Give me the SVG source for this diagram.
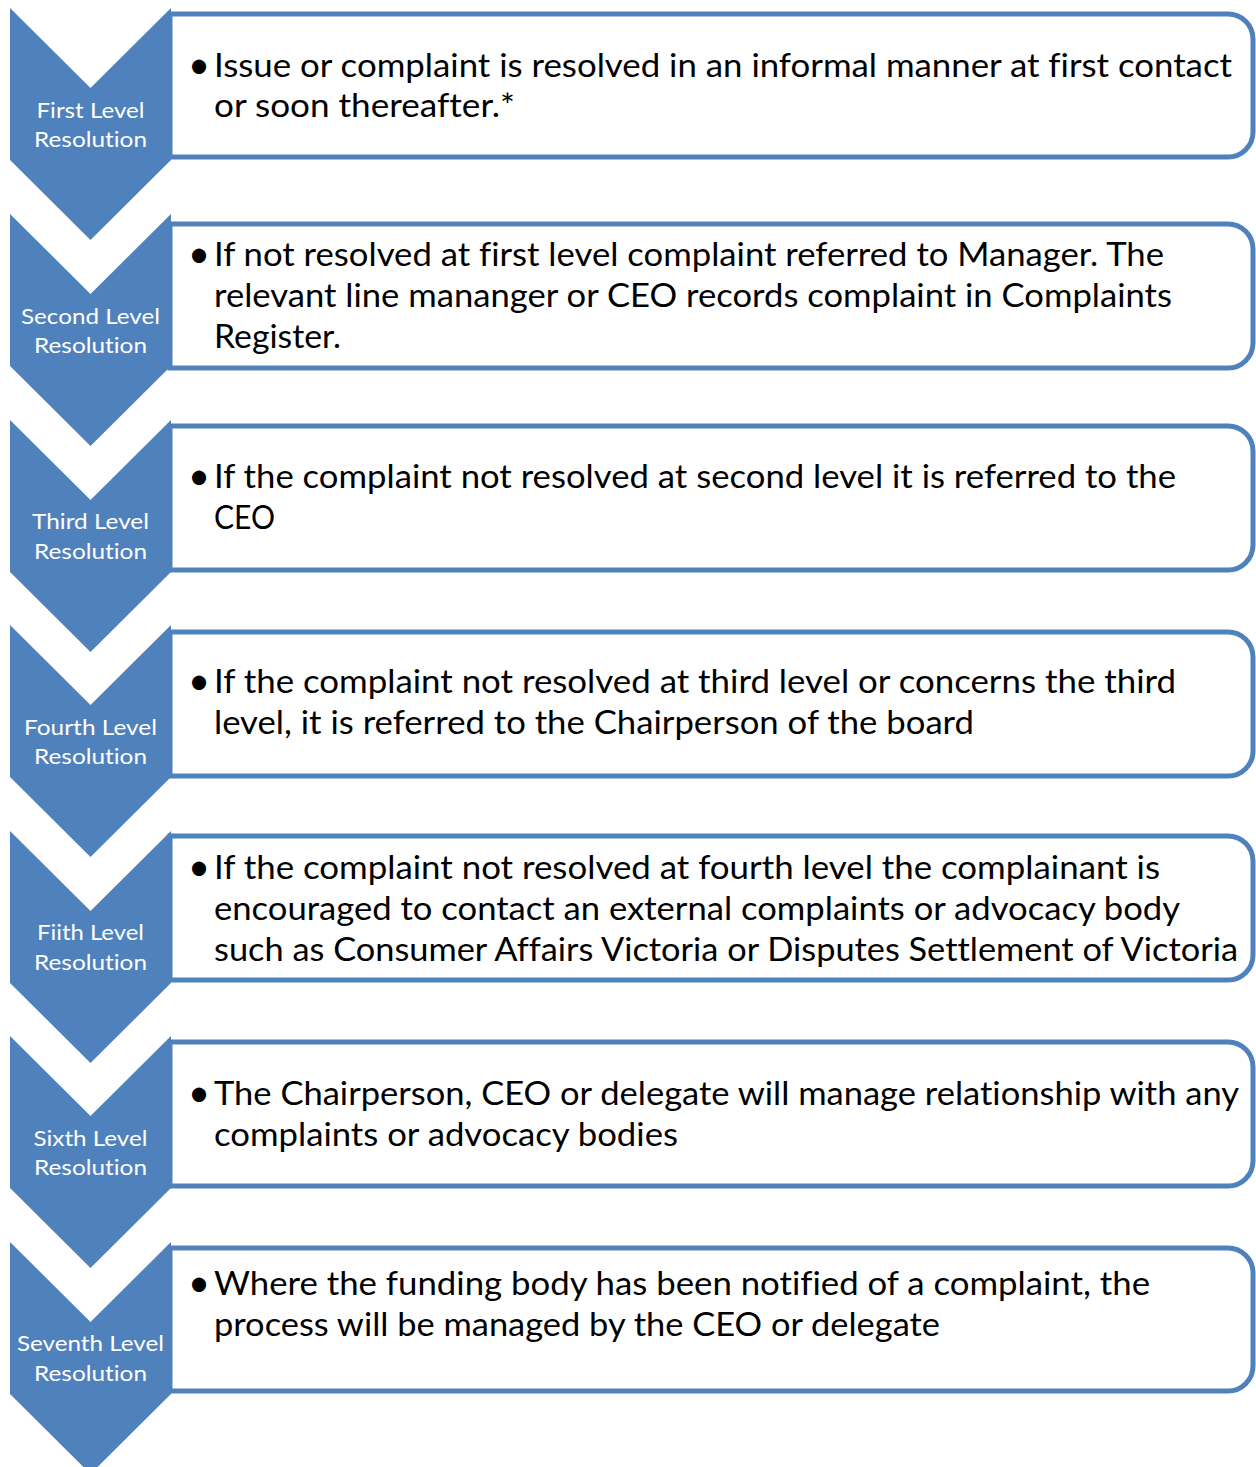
<svg xmlns="http://www.w3.org/2000/svg" width="1256" height="1467" viewBox="0 0 1256 1467">
<style>
.box{fill:#fff;stroke:#4F81BD;stroke-width:5}
.chev{fill:#4F81BD}
.lbl{font-family:Lato,"Open Sans","Liberation Sans",sans-serif;font-size:22px;fill:#fff;text-anchor:middle;font-variant-ligatures:none}
.txt{font-family:Lato,"Open Sans","Liberation Sans",sans-serif;font-size:33px;fill:#000;font-variant-ligatures:none}
.bul{font-family:Lato,"Liberation Sans",sans-serif;font-size:38px;fill:#000;text-anchor:middle}
.f{fill:#000}
</style>
<rect width="1256" height="1467" fill="#fff"/>
<g id="connectors"></g>

<g id="row1">
<path class="box" d="M170,14 H1228 A25,25 0 0 1 1253,39 V132 A25,25 0 0 1 1228,157 H170 Z"/>
<polygon class="chev" points="10,8 90.5,88 171,8 171,160 90.5,240 10,160"/>
<text class="lbl" x="90.5" y="118" textLength="108" lengthAdjust="spacingAndGlyphs">First Level</text>
<text class="lbl" x="90.5" y="147" textLength="113" lengthAdjust="spacingAndGlyphs">Resolution</text>
<text class="bul" x="199" y="78">•</text>
<text class="txt" x="214" y="77" textLength="1018" lengthAdjust="spacingAndGlyphs">Issue or complaint is resolved in an informal manner at <tspan class="f">f</tspan>irst contact</text>
<text class="txt" x="214" y="117" textLength="301" lengthAdjust="spacingAndGlyphs">or soon thereafter.*</text>
</g>

<g id="row2">
<path class="box" d="M170,224 H1228 A25,25 0 0 1 1253,249 V343 A25,25 0 0 1 1228,368 H170 Z"/>
<polygon class="chev" points="10,214 90.5,294 171,214 171,366 90.5,446 10,366"/>
<text class="lbl" x="90.5" y="324" textLength="139" lengthAdjust="spacingAndGlyphs">Second Level</text>
<text class="lbl" x="90.5" y="353" textLength="113" lengthAdjust="spacingAndGlyphs">Resolution</text>
<text class="bul" x="199" y="267">•</text>
<text class="txt" x="214" y="266" textLength="950" lengthAdjust="spacingAndGlyphs">If not resolved at <tspan class="f">f</tspan>irst level complaint referred to Manager. The</text>
<text class="txt" x="214" y="307" textLength="958" lengthAdjust="spacingAndGlyphs">relevant line mananger or CEO records complaint in Complaints</text>
<text class="txt" x="214" y="348" textLength="127" lengthAdjust="spacingAndGlyphs">Register.</text>
</g>

<g id="row3">
<path class="box" d="M170,426 H1228 A25,25 0 0 1 1253,451 V545 A25,25 0 0 1 1228,570 H170 Z"/>
<polygon class="chev" points="10,420 90.5,500 171,420 171,572 90.5,652 10,572"/>
<text class="lbl" x="90.5" y="529" textLength="117" lengthAdjust="spacingAndGlyphs">Third Level</text>
<text class="lbl" x="90.5" y="559" textLength="113" lengthAdjust="spacingAndGlyphs">Resolution</text>
<text class="bul" x="199" y="489">•</text>
<text class="txt" x="214" y="488" textLength="962" lengthAdjust="spacingAndGlyphs">If the complaint not resolved at second level it is referred to the</text>
<text class="txt" x="214" y="529" textLength="61" lengthAdjust="spacingAndGlyphs">CEO</text>
</g>

<g id="row4">
<path class="box" d="M170,632 H1228 A25,25 0 0 1 1253,657 V751 A25,25 0 0 1 1228,776 H170 Z"/>
<polygon class="chev" points="10,625 90.5,705 171,625 171,777 90.5,857 10,777"/>
<text class="lbl" x="90.5" y="735" textLength="133" lengthAdjust="spacingAndGlyphs">Fourth Level</text>
<text class="lbl" x="90.5" y="764" textLength="113" lengthAdjust="spacingAndGlyphs">Resolution</text>
<text class="bul" x="199" y="694">•</text>
<text class="txt" x="214" y="693" textLength="962" lengthAdjust="spacingAndGlyphs">If the complaint not resolved at third level or concerns the third</text>
<text class="txt" x="214" y="734" textLength="760" lengthAdjust="spacingAndGlyphs">level, it is referred to the Chairperson of the board</text>
</g>

<g id="row5">
<path class="box" d="M170,836 H1228 A25,25 0 0 1 1253,861 V955 A25,25 0 0 1 1228,980 H170 Z"/>
<polygon class="chev" points="10,831 90.5,911 171,831 171,983 90.5,1063 10,983"/>
<text class="lbl" x="90.5" y="940" textLength="107" lengthAdjust="spacingAndGlyphs">Fiith Level</text>
<text class="lbl" x="90.5" y="970" textLength="113" lengthAdjust="spacingAndGlyphs">Resolution</text>
<text class="bul" x="199" y="880">•</text>
<text class="txt" x="214" y="879" textLength="946" lengthAdjust="spacingAndGlyphs">If the complaint not resolved at fourth level the complainant is</text>
<text class="txt" x="214" y="920" textLength="966" lengthAdjust="spacingAndGlyphs">encouraged to contact an external complaints or advocacy body</text>
<text class="txt" x="214" y="961" textLength="1024" lengthAdjust="spacingAndGlyphs">such as Consumer Affairs Victoria or Disputes Settlement of Victoria</text>
</g>

<g id="row6">
<path class="box" d="M170,1042 H1228 A25,25 0 0 1 1253,1067 V1161 A25,25 0 0 1 1228,1186 H170 Z"/>
<polygon class="chev" points="10,1036 90.5,1116 171,1036 171,1188 90.5,1268 10,1188"/>
<text class="lbl" x="90.5" y="1146" textLength="114" lengthAdjust="spacingAndGlyphs">Sixth Level</text>
<text class="lbl" x="90.5" y="1175" textLength="113" lengthAdjust="spacingAndGlyphs">Resolution</text>
<text class="bul" x="199" y="1106">•</text>
<text class="txt" x="214" y="1105" textLength="1025" lengthAdjust="spacingAndGlyphs">The Chairperson, CEO or delegate will manage relationship with any</text>
<text class="txt" x="214" y="1146" textLength="464" lengthAdjust="spacingAndGlyphs">complaints or advocacy bodies</text>
</g>

<g id="row7">
<path class="box" d="M170,1248 H1228 A25,25 0 0 1 1253,1273 V1366 A25,25 0 0 1 1228,1391 H170 Z"/>
<polygon class="chev" points="10,1242 90.5,1322 171,1242 171,1394 90.5,1474 10,1394"/>
<text class="lbl" x="90.5" y="1351" textLength="147" lengthAdjust="spacingAndGlyphs">Seventh Level</text>
<text class="lbl" x="90.5" y="1381" textLength="113" lengthAdjust="spacingAndGlyphs">Resolution</text>
<text class="bul" x="199" y="1296">•</text>
<text class="txt" x="214" y="1295" textLength="936" lengthAdjust="spacingAndGlyphs">Where the funding body has been noti<tspan class="f">f</tspan>ied of a complaint, the</text>
<text class="txt" x="214" y="1336" textLength="726" lengthAdjust="spacingAndGlyphs">process will be managed by the CEO or delegate</text>
</g>
</svg>
